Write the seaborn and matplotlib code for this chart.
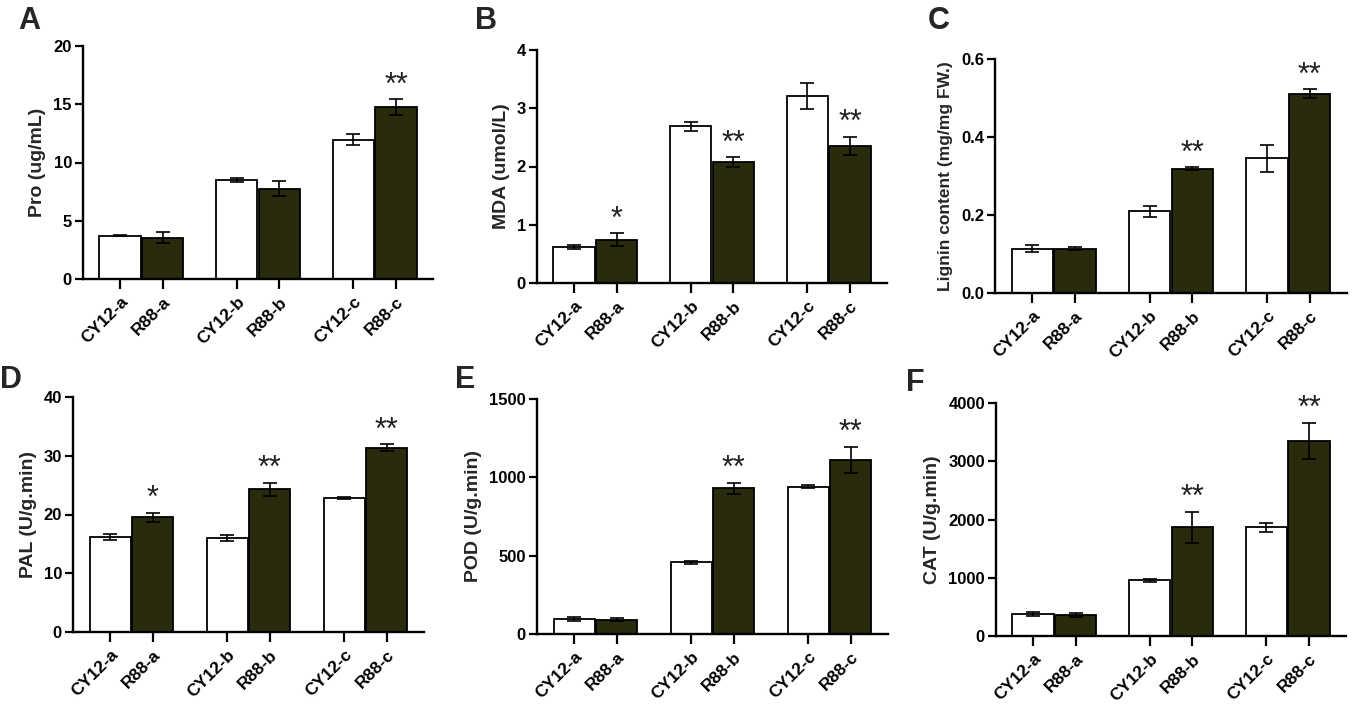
import numpy as np
import pandas as pd
import seaborn as sns
import matplotlib.pyplot as plt
from matplotlib.ticker import FormatStrFormatter

# ---------------- data ----------------
groups = ['a', 'b', 'c']
cultivars = ['CY12', 'R88']
tick_labels = ['CY12-a', 'R88-a', 'CY12-b', 'R88-b', 'CY12-c', 'R88-c']

pro_cy12 = [3.71, 8.49, 11.97]
pro_cy12_err = [0.05, 0.17, 0.49]
pro_r88 = [3.54, 7.74, 14.74]
pro_r88_err = [0.47, 0.63, 0.67]
pro_stars = ['', '', '**']

mda_cy12 = [0.62, 2.69, 3.21]
mda_cy12_err = [0.04, 0.08, 0.22]
mda_r88 = [0.74, 2.08, 2.35]
mda_r88_err = [0.11, 0.08, 0.16]
mda_stars = ['*', '**', '**']

lig_cy12 = [0.114, 0.210, 0.345]
lig_cy12_err = [0.009, 0.014, 0.034]
lig_r88 = [0.114, 0.319, 0.511]
lig_r88_err = [0.004, 0.003, 0.011]
lig_stars = ['', '**', '**']

pal_cy12 = [16.16, 16.05, 22.87]
pal_cy12_err = [0.54, 0.51, 0.17]
pal_r88 = [19.57, 24.3, 31.35]
pal_r88_err = [0.77, 1.1, 0.57]
pal_stars = ['*', '**', '**']

pod_cy12 = [96, 458, 940]
pod_cy12_err = [12, 10, 10]
pod_r88 = [90, 929, 1112]
pod_r88_err = [9, 36, 83]
pod_stars = ['', '**', '**']

cat_cy12 = [377, 954, 1863]
cat_cy12_err = [34, 31, 83]
cat_r88 = [360, 1863, 3349]
cat_r88_err = [31, 274, 309]
cat_stars = ['', '**', '**']

# ---------------- style ----------------
sns.set_style('ticks')
plt.rcParams['font.family'] = ['Liberation Sans', 'DejaVu Sans']
plt.rcParams['font.weight'] = 'bold'
plt.rcParams['axes.labelweight'] = 'bold'

DARK = '#2a2a0c'
W, H = 1358, 717
fig = plt.figure(figsize=(W / 100, H / 100), dpi=100)


def add_ax(x0, x1, ytop, ybot):
    return fig.add_axes([x0 / W, 1 - ybot / H, (x1 - x0) / W, (ybot - ytop) / H])


def panel(ax, cy, cy_err, r88, r88_err, stars, ylabel, yticks, letter, letter_xy,
          yfmt=None, ylabel_size=14, labelpad=5):
    df = pd.DataFrame({
        'group': groups * 2,
        'cultivar': ['CY12'] * 3 + ['R88'] * 3,
        'value': list(cy) + list(r88),
    })
    sns.barplot(data=df, x='group', y='value', hue='cultivar', order=groups,
                hue_order=cultivars, palette={'CY12': 'white', 'R88': DARK},
                edgecolor='black', linewidth=1.3, width=0.73, gap=0.035,
                errorbar=None, legend=False, ax=ax, saturation=1)
    bars = sorted(ax.patches, key=lambda p: p.get_x())
    xs = [p.get_x() + p.get_width() / 2 for p in bars]
    tops = [p.get_height() for p in bars]
    errs = []
    star_list = []
    for i in range(3):
        errs += [cy_err[i], r88_err[i]]
        star_list += ['', stars[i]]
    ax.errorbar(xs, tops, yerr=errs, fmt='none', ecolor='black',
                elinewidth=1.2, capsize=5, capthick=1.2, zorder=5)
    for x, t, e, s in zip(xs, tops, errs, star_list):
        if s:
            ax.annotate(s, (x, t + e), xytext=(0, 4), textcoords='offset points',
                        ha='center', va='baseline', fontsize=22,
                        fontweight='normal', color='#222222', annotation_clip=False)
    ax.set_xlim(-0.5, 2.5)
    ax.set_ylim(yticks[0], yticks[-1])
    ax.set_yticks(yticks)
    if yfmt:
        ax.yaxis.set_major_formatter(FormatStrFormatter(yfmt))
    ax.set_xticks(xs)
    ax.set_xticklabels(tick_labels, rotation=45, ha='right', rotation_mode='anchor',
                       fontsize=12.5, fontweight='bold')
    ax.set_xlabel('')
    ax.set_ylabel(ylabel, fontsize=ylabel_size, fontweight='bold', labelpad=labelpad)
    for lab in ax.get_yticklabels():
        lab.set_fontsize(12)
        lab.set_fontweight('bold')
    sns.despine(ax=ax)
    for sp in ['left', 'bottom']:
        ax.spines[sp].set_linewidth(1.7)
        ax.spines[sp].set_color('black')
    ax.tick_params(axis='both', direction='out', length=6, width=1.6, colors='black',
                   pad=2)
    ax.tick_params(axis='x', length=7, pad=4)
    fig.text(letter_xy[0] / W, 1 - letter_xy[1] / H, letter, fontsize=22,
             fontweight='bold', va='top', ha='left')


axA = add_ax(83, 433, 46, 279)
axB = add_ax(537, 887, 50, 283)
axC = add_ax(995, 1347, 59, 293)
axD = add_ax(73, 424, 397, 632)
axE = add_ax(537, 888, 399, 634)
axF = add_ax(996, 1346, 403, 636)

panel(axA, pro_cy12, pro_cy12_err, pro_r88, pro_r88_err, pro_stars,
      'Pro (ug/mL)', [0, 5, 10, 15, 20], 'A', (18, 6))
panel(axB, mda_cy12, mda_cy12_err, mda_r88, mda_r88_err, mda_stars,
      'MDA (umol/L)', [0, 1, 2, 3, 4], 'B', (475, 6))
panel(axC, lig_cy12, lig_cy12_err, lig_r88, lig_r88_err, lig_stars,
      'Lignin content (mg/mg FW.)', [0.0, 0.2, 0.4, 0.6], 'C', (928, 6),
      yfmt='%.1f', ylabel_size=12.5, labelpad=6)
panel(axD, pal_cy12, pal_cy12_err, pal_r88, pal_r88_err, pal_stars,
      'PAL (U/g.min)', [0, 10, 20, 30, 40], 'D', (0, 365))
panel(axE, pod_cy12, pod_cy12_err, pod_r88, pod_r88_err, pod_stars,
      'POD (U/g.min)', [0, 500, 1000, 1500], 'E', (455, 365))
panel(axF, cat_cy12, cat_cy12_err, cat_r88, cat_r88_err, cat_stars,
      'CAT (U/g.min)', [0, 1000, 2000, 3000, 4000], 'F', (906, 368))

fig.savefig('out.png', dpi=100, facecolor='white')
